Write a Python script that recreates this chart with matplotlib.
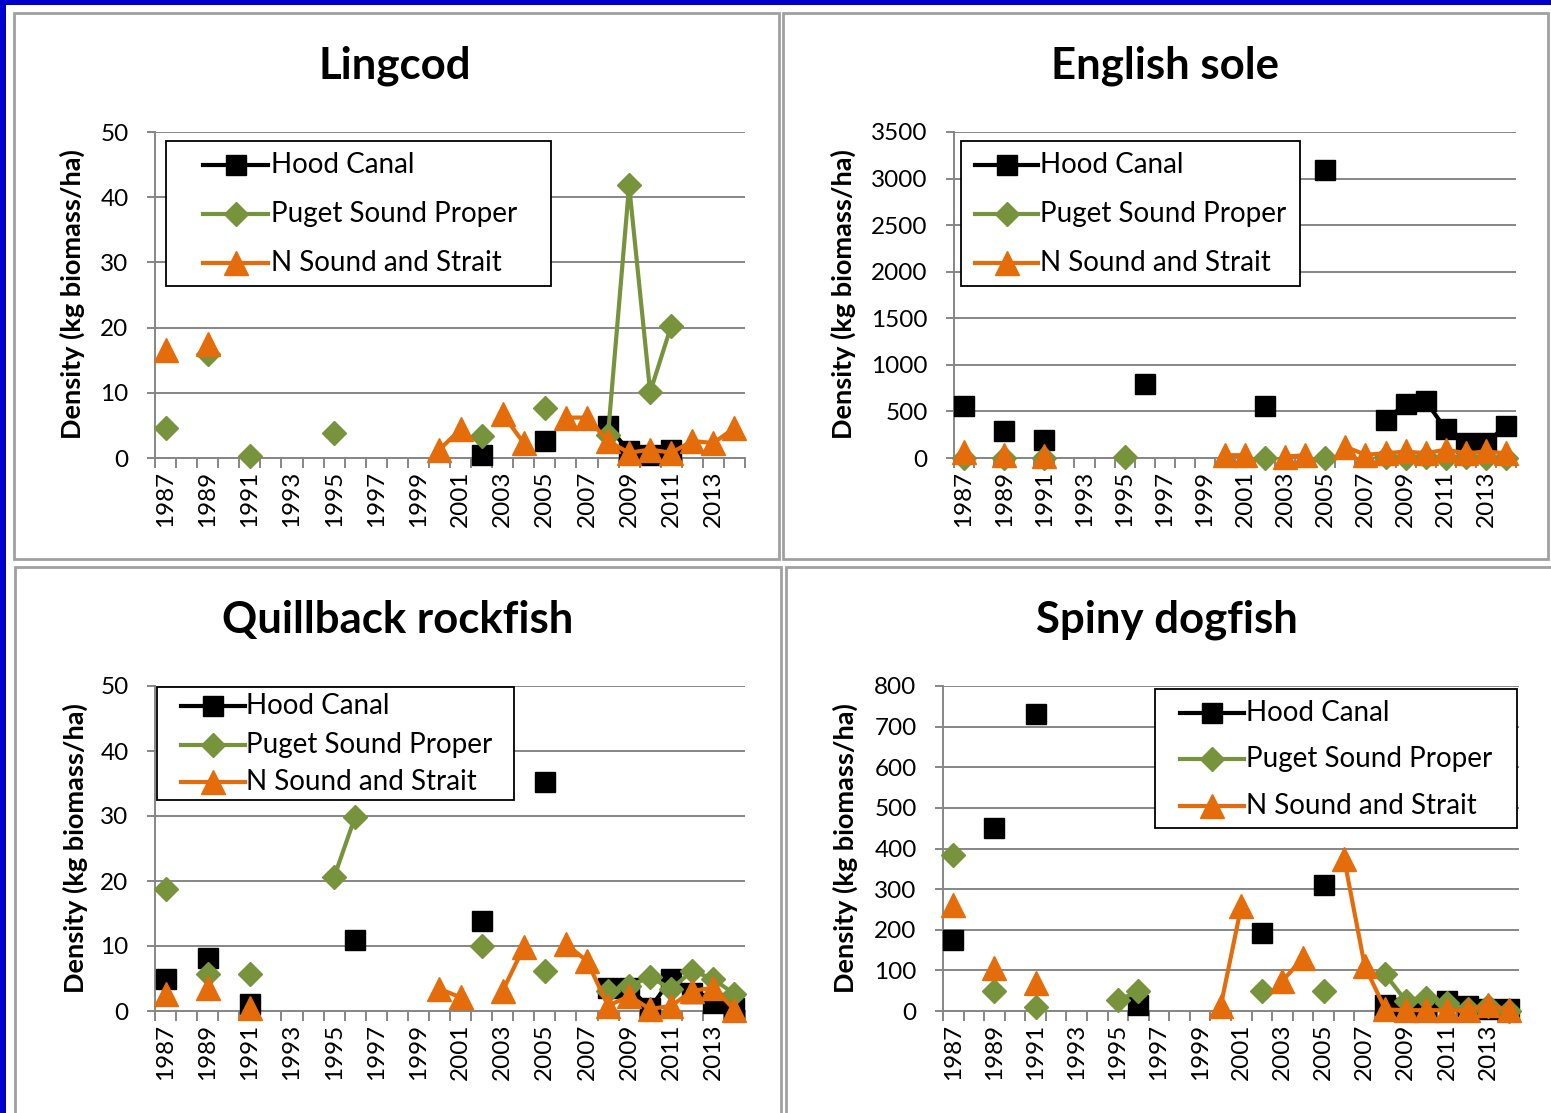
import numpy as np
import matplotlib
matplotlib.use("Agg")
import matplotlib.pyplot as plt
from matplotlib.lines import Line2D
from matplotlib.patches import Rectangle

plt.rcParams["font.family"] = ["Lato", "DejaVu Sans"]

N = None
years = [1987, 1988, 1989, 1990, 1991, 1992, 1993, 1994, 1995, 1996,
         1997, 1998, 1999, 2000, 2001, 2002, 2003, 2004, 2005, 2006,
         2007, 2008, 2009, 2010, 2011, 2012, 2013, 2014]
tick_years = [1987, 1989, 1991, 1993, 1995, 1997, 1999, 2001, 2003, 2005,
              2007, 2009, 2011, 2013]
series_names = ["Hood Canal", "Puget Sound Proper", "N Sound and Strait"]

# ---------------- Lingcod ----------------
lingcod_hood = [N, N, N, N, N, N, N, N, N, N,
                N, N, N, N, N, 0.5, N, N, 2.6, N,
                N, 4.9, 1.0, 0.4, 1.3, N, N, N]
lingcod_puget = [4.6, N, 15.9, N, 0.3, N, N, N, 3.8, N,
                 N, N, N, N, N, 3.3, N, N, 7.7, N,
                 N, 3.6, 41.8, 10.1, 20.3, N, N, N]
lingcod_nsound = [16.5, N, 17.5, N, N, N, N, N, N, N,
                  N, N, N, 1.3, 4.4, N, 6.7, 2.3, N, 6.2,
                  6.2, 2.6, 0.8, 1.3, 0.8, 2.6, 2.3, 4.6]

# ---------------- English sole ----------------
sole_hood = [559, N, 288, N, 188, N, N, N, N, 793,
             N, N, N, N, N, 559, N, N, 3094, N,
             N, 404, 584, 613, 307, 162, 162, 343]
sole_puget = [5, N, 5, N, 5, N, N, N, 10, N,
              N, N, N, N, N, 5, N, N, 5, N,
              N, 10, 5, 10, 5, 15, 5, 5]
sole_nsound = [60, N, 30, N, 20, N, N, N, N, N,
               N, N, N, 30, 30, N, 15, 30, N, 120,
               35, 50, 70, 50, 90, 50, 70, 50]

# ---------------- Quillback rockfish ----------------
quill_hood = [5.0, N, 8.2, N, 1.1, N, N, N, N, 10.9,
              N, N, N, N, N, 13.9, N, N, 35.3, N,
              N, 3.6, 3.6, 0.4, 5.0, 2.8, 1.2, 0.5]
quill_puget = [18.8, N, 5.7, N, 5.7, N, N, N, 20.6, 29.9,
               N, N, N, N, N, 10.0, N, N, 6.2, N,
               N, 3.1, 3.9, 5.2, 3.4, 6.2, 4.9, 2.6]
quill_nsound = [2.6, N, 3.6, N, 0.5, N, N, N, N, N,
                N, N, N, 3.4, 2.1, N, 3.1, 9.8, N, 10.3,
                7.7, 0.8, 2.3, 0.3, 0.8, 3.1, 3.6, 0.2]

# ---------------- Spiny dogfish ----------------
dog_hood = [176, N, 451, N, 730, N, N, N, N, 15,
            N, N, N, N, N, 193, N, N, 310, N,
            N, 16, 8, 12, 25, 12, 4, 4]
dog_puget = [385, N, 49, N, 10, N, N, N, 26, 49,
             N, N, N, N, N, 49, N, N, 49, N,
             N, 90, 25, 33, 20, 4, 12, 0]
dog_nsound = [262, N, 107, N, 70, N, N, N, N, N,
              N, N, N, 12, 258, N, 74, 131, N, 375,
              111, 4, 2, 2, 2, 2, 16, 2]

# ---------------- styling / layout ----------------
W, H = 1551, 1113
fig = plt.figure(figsize=(W / 100, H / 100), dpi=100)
fig.patch.set_facecolor("white")

COLORS = ["#000000", "#77933C", "#E46C0A"]
MARKERS = ["s", "D", "^"]
MSIZES = [15, 12, 17]
LW = 3.0
GRID = "#868686"


def fx(x):
    return x / W


def fy(y):
    return 1 - y / H


def add_axes_px(x0, y0, x1, y1):
    return fig.add_axes([fx(x0), fy(y1), (x1 - x0) / W, (y1 - y0) / H])


# blue slide border + panel frames
fig.add_artist(Rectangle((0, fy(5)), 1, 5 / H, transform=fig.transFigure,
                         facecolor="#0000CC", edgecolor="none", zorder=0))
fig.add_artist(Rectangle((0, 0), 6 / W, 1, transform=fig.transFigure,
                         facecolor="#0000CC", edgecolor="none", zorder=0))
for (x0, y0, x1, y1) in [(14, 13, 779, 559), (783, 13, 1548, 559),
                         (15, 567, 781, 1118), (786, 567, 1552, 1118)]:
    fig.add_artist(Rectangle((fx(x0), fy(y1)), (x1 - x0) / W, (y1 - y0) / H,
                             transform=fig.transFigure, facecolor="none",
                             edgecolor="#A0A0A0", lw=2.0, zorder=0))


def panel(rect, title, title_xy, ylab_xy, ymax, ystep, series, leg):
    ax = add_axes_px(*rect)
    x = np.arange(len(years))
    for vals, c, m, ms in zip(series, COLORS, MARKERS, MSIZES):
        y = np.array([np.nan if v is None else v for v in vals], dtype=float)
        ax.plot(x, y, color=c, lw=LW, marker=m, ms=ms, mfc=c, mec=c,
                clip_on=False, zorder=3)
    ax.set_xlim(-0.5, len(years) - 0.5)
    ax.set_ylim(0, ymax)
    ax.set_xticks(np.arange(len(years) + 1) - 0.5)
    ax.set_xticklabels([])
    ax.set_xticks([years.index(t) for t in tick_years], minor=True)
    ax.set_xticklabels([str(t) for t in tick_years], minor=True)
    ax.tick_params(axis="x", which="major", direction="out", length=7,
                   width=1.4, color=GRID)
    ax.tick_params(axis="x", which="minor", length=0, pad=9, rotation=90,
                   labelsize=17.5)
    ax.set_yticks(np.arange(0, ymax + ystep / 2, ystep))
    ax.tick_params(axis="y", direction="out", length=6, width=1.4,
                   color=GRID, pad=13, labelsize=17.5)
    ax.yaxis.grid(True, color=GRID, lw=1.4)
    ax.set_axisbelow(True)
    for s in ["top", "right"]:
        ax.spines[s].set_visible(False)
    for s in ["left", "bottom"]:
        ax.spines[s].set_color(GRID)
        ax.spines[s].set_linewidth(1.4)

    fig.text(fx(title_xy[0]), fy(title_xy[1]), title, ha="center",
             va="center", fontsize=31.5, fontweight="bold")
    fig.text(fx(ylab_xy[0]), fy(ylab_xy[1]), "Density (kg biomass/ha)",
             ha="center", va="center", rotation=90, fontsize=19.5,
             fontweight="bold")

    (bx0, by0, bx1, by1), hx0, hx1, tx, ys = leg
    fig.add_artist(Rectangle((fx(bx0), fy(by1)), (bx1 - bx0) / W,
                             (by1 - by0) / H, transform=fig.transFigure,
                             facecolor="white", edgecolor="black", lw=1.3,
                             zorder=5))
    for name, c, m, ms, yy in zip(series_names, COLORS, MARKERS, MSIZES, ys):
        fig.add_artist(Line2D([fx(hx0), fx(hx1)], [fy(yy), fy(yy)],
                              transform=fig.transFigure, color=c, lw=LW,
                              zorder=6))
        fig.add_artist(Line2D([fx((hx0 + hx1) / 2)], [fy(yy)],
                              transform=fig.transFigure, color=c, marker=m,
                              ms=ms, mfc=c, mec=c, lw=0, zorder=6))
        fig.text(fx(tx), fy(yy), name, ha="left", va="center", fontsize=20,
                 zorder=7)
    return ax


panel((155, 132, 745, 458), "Lingcod", (395, 66), (72, 294), 50, 10,
      [lingcod_hood, lingcod_puget, lingcod_nsound],
      ((166, 141, 551, 286), 203, 268, 271, (165, 214, 263)))
panel((954, 132, 1516, 458), "English sole", (1165, 66), (843, 294), 3500, 500,
      [sole_hood, sole_puget, sole_nsound],
      ((961, 141, 1300, 286), 975, 1038, 1040, (165, 214, 263)))
panel((155, 686, 745, 1011), "Quillback rockfish", (398, 620), (75, 848), 50, 10,
      [quill_hood, quill_puget, quill_nsound],
      ((157, 687, 514, 800), 181, 245, 246, (706, 745, 782)))
panel((943, 686, 1519, 1011), "Spiny dogfish", (1167, 620), (845, 848), 800, 100,
      [dog_hood, dog_puget, dog_nsound],
      ((1155, 689, 1517, 828), 1180, 1244, 1246, (713, 759, 806)))

fig.savefig("out.png", dpi=100)
